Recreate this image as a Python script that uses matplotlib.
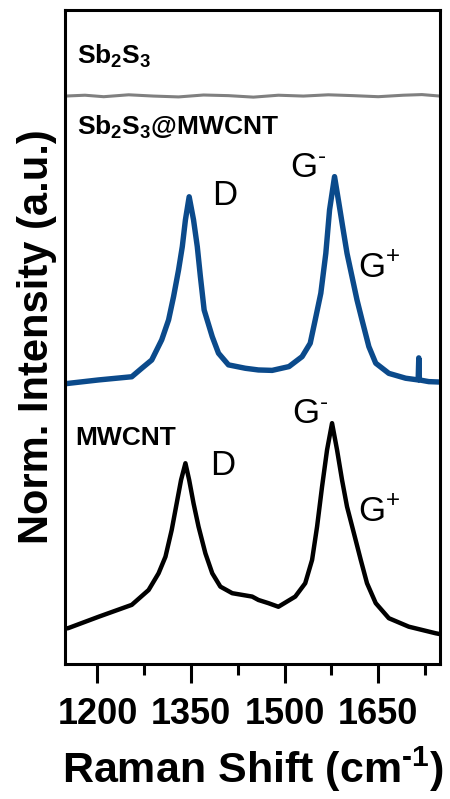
import matplotlib
matplotlib.use("Agg")
import matplotlib.pyplot as plt

plt.rcParams['font.family'] = ['Liberation Sans', 'DejaVu Sans']
plt.rcParams['mathtext.fontset'] = 'custom'
plt.rcParams['mathtext.rm'] = 'Liberation Sans'
plt.rcParams['mathtext.it'] = 'Liberation Sans:italic'
plt.rcParams['mathtext.bf'] = 'Liberation Sans:bold'

# ---- data ----
wn_mwcnt = [1148, 1153, 1202, 1255, 1282, 1298, 1309, 1319, 1327, 1334, 1341, 1347, 1354,
            1362, 1373, 1384, 1397, 1416, 1448, 1458, 1474, 1490, 1517, 1533, 1544,
            1552, 1560, 1568, 1576, 1584, 1592, 1600, 1611, 1622, 1632, 1646, 1667,
            1699, 1742, 1749]
int_mwcnt = [0.030, 0.032, 0.086, 0.142, 0.212, 0.291, 0.369, 0.495, 0.621, 0.731, 0.810,
             0.731, 0.621, 0.511, 0.385, 0.291, 0.228, 0.197, 0.181, 0.165, 0.150, 0.133,
             0.181, 0.244, 0.354, 0.511, 0.700, 0.873, 0.999, 0.873, 0.731, 0.605, 0.480,
             0.354, 0.244, 0.150, 0.079, 0.039, 0.008, 0.004]

wn_comp = [1148, 1154, 1202, 1255, 1271, 1287, 1303, 1314, 1322, 1330, 1336, 1341, 1347,
           1354, 1360, 1365, 1371, 1384, 1394, 1410, 1437, 1458, 1480, 1507, 1528,
           1541, 1549, 1558, 1566, 1572, 1580, 1587, 1593, 1600, 1608, 1616, 1624,
           1635, 1646, 1667, 1694, 1714, 1715, 1716, 1731, 1749]
int_comp = [-0.005, -0.003, 0.013, 0.028, 0.068, 0.107, 0.202, 0.296, 0.406, 0.532, 0.642,
            0.768, 0.877, 0.768, 0.642, 0.500, 0.343, 0.217, 0.139, 0.084, 0.068, 0.060,
            0.058, 0.076, 0.123, 0.186, 0.296, 0.422, 0.610, 0.815, 0.972, 0.846, 0.736,
            0.610, 0.500, 0.390, 0.296, 0.170, 0.092, 0.044, 0.021, 0.013, 0.117, 0.013,
            0.005, 0.003]

wn_sb2s3 = [1148, 1180, 1210, 1250, 1290, 1330, 1370, 1410, 1450, 1490, 1530, 1570,
            1610, 1650, 1690, 1720, 1749]
int_sb2s3 = [0.000, 0.004, -0.003, 0.006, 0.000, -0.004, 0.005, 0.002, -0.005, 0.004,
             0.000, 0.006, 0.002, -0.003, 0.004, 0.007, 0.000]

offsets = [0.0, 1.19, 2.542]
series_names = ['MWCNT', 'Sb$_\\mathbf{2}$S$_\\mathbf{3}$@MWCNT', 'Sb$_\\mathbf{2}$S$_\\mathbf{3}$']
colors = ['#000000', '#0B4A8B', '#808080']

x_ticks = [1200, 1350, 1500, 1650]

# ---- figure ----
fig = plt.figure(figsize=(4.5, 7.99), dpi=100)
ax = fig.add_axes([65 / 450, 1 - 664 / 799, 375 / 450, 654 / 799])

ax.plot(wn_mwcnt, [v + offsets[0] for v in int_mwcnt], color=colors[0], lw=3.2,
        solid_joinstyle='round')
ax.plot(wn_comp, [v + offsets[1] for v in int_comp], color=colors[1], lw=3.9,
        solid_joinstyle='round')
ax.plot(wn_sb2s3, [v + offsets[2] for v in int_sb2s3], color=colors[2], lw=2.2)

ax.set_xlim(1148, 1749)
ax.set_ylim(-0.137, 2.948)
ax.set_xticks(x_ticks)
ax.set_xticklabels([str(t) for t in x_ticks], fontweight='bold', fontsize=26)
ax.set_xticks([1275, 1425, 1575, 1725], minor=True)
ax.set_yticks([])
ax.tick_params(axis='x', which='major', direction='out', length=14, width=2.2, pad=10)
ax.tick_params(axis='x', which='minor', direction='out', length=8, width=2.2)
for s in ax.spines.values():
    s.set_linewidth(2.2)

ax.set_xlabel('Raman Shift (cm$^{\\mathbf{\u20101}}$)', fontsize=31, fontweight='bold',
              labelpad=9)
ax.set_ylabel('Norm. Intensity (a.u.)', fontsize=30, fontweight='bold', labelpad=6)

# sample labels
ax.text(1167, 2.693, series_names[2], fontsize=19, fontweight='bold', va='baseline')
ax.text(1167, 2.358, series_names[1], fontsize=19, fontweight='bold', va='baseline')
ax.text(1164, 0.896, series_names[0], fontsize=19, fontweight='bold', va='baseline')

# peak labels
pk = dict(fontsize=25, va='baseline')
ax.text(1384, 2.028, 'D', **pk)
ax.text(1509, 2.160, 'G$^{\u2010}$', **pk)
ax.text(1617, 1.684, 'G$^{+}$', **pk)
ax.text(1381, 0.755, 'D', **pk)
ax.text(1512, 1.000, 'G$^{\u2010}$', **pk)
ax.text(1617, 0.533, 'G$^{+}$', **pk)

fig.savefig('out.png', dpi=100)
